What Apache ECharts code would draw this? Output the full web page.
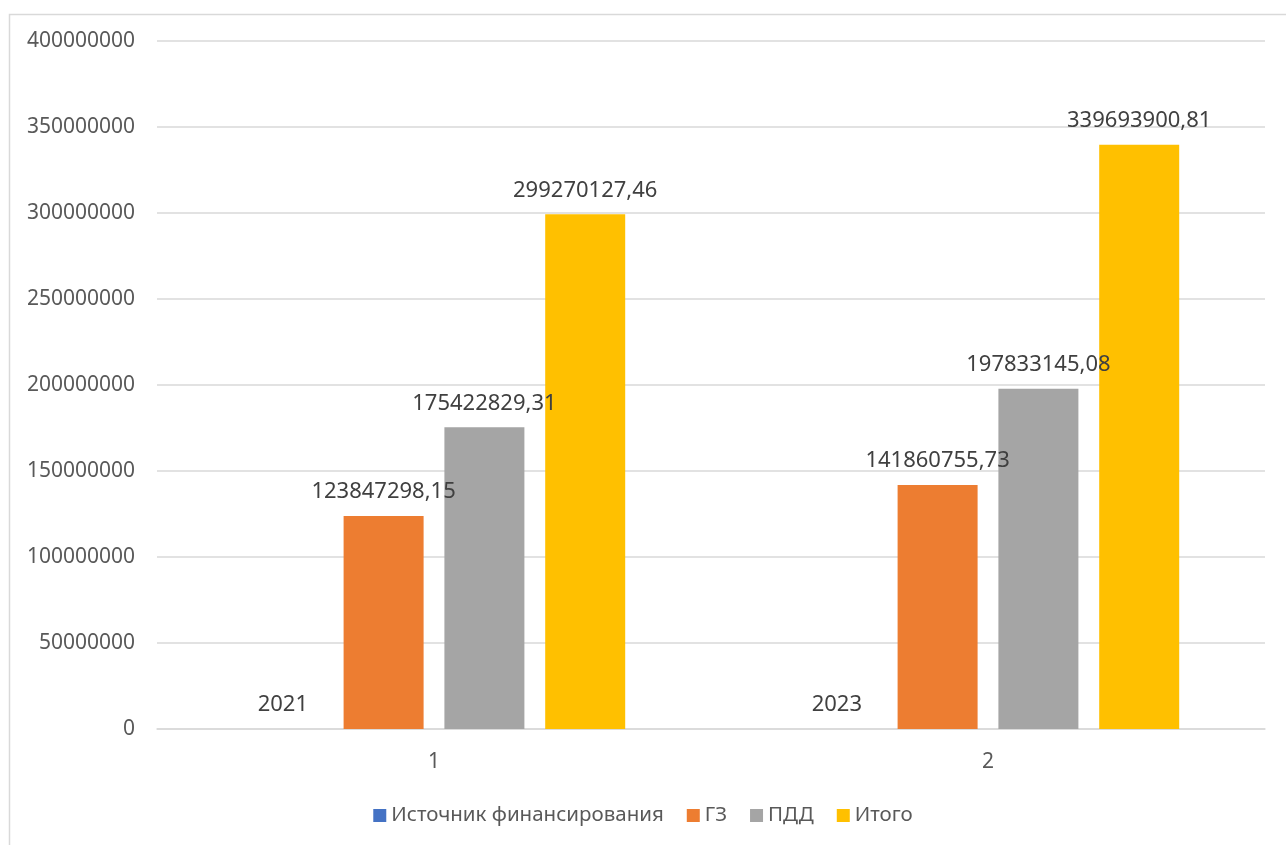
<!DOCTYPE html>
<html>
<head>
<meta charset="utf-8">
<script src="https://cdn.jsdelivr.net/npm/echarts@6/dist/echarts.min.js"></script>
<style>
html,body{margin:0;padding:0;background:#fff;}
#chart{width:1286px;height:845px;}
</style>
</head>
<body>
<div id="chart"></div>
<script>
var categories = ['1', '2'];
var seriesNames = ['Источник финансирования', 'ГЗ', 'ПДД', 'Итого'];
var sourceValues = [2021, 2023];
var gzValues = [123847298.15, 141860755.73];
var pddValues = [175422829.31, 197833145.08];
var totalValues = [299270127.46, 339693900.81];
var yTicks = { min: 0, max: 400000000, interval: 50000000 };

var colors = ['#4472C4', '#ED7D31', '#A5A5A5', '#FFC000'];
var fontFamily = '"Noto Sans", "DejaVu Sans", sans-serif';

function fmt(p) {
  var v = p.value;
  if (Number.isInteger(v)) return String(v);
  return v.toFixed(2).replace('.', ',');
}

function mkSeries(name, data, color) {
  return {
    name: name,
    type: 'bar',
    data: data,
    barWidth: 80,
    barGap: '26%',
    itemStyle: { color: color },
    label: {
      show: true,
      position: 'top',
      distance: 13,
      formatter: fmt,
      color: '#404040',
      fontSize: 22,
      fontFamily: fontFamily
    }
  };
}

var chart = echarts.init(document.getElementById('chart'));
chart.setOption({
  backgroundColor: '#ffffff',
  animation: false,
  color: colors,
  graphic: [{
    type: 'rect',
    left: 7,
    top: 12,
    shape: { width: 1300, height: 860 },
    style: { fill: 'none', stroke: '#d9d9d9', lineWidth: 1.5 },
    silent: true,
    z: -1
  }],
  grid: { left: 157, right: 21, top: 41, bottom: 116 },
  legend: {
    left: 'center',
    top: 800,
    itemWidth: 13,
    itemHeight: 13,
    itemGap: 23,
    icon: 'rect',
    textStyle: { color: '#595959', fontSize: 20.5, fontFamily: fontFamily },
    data: seriesNames
  },
  xAxis: {
    type: 'category',
    data: categories,
    axisLine: { show: true, lineStyle: { color: '#d9d9d9', width: 1.5 } },
    axisTick: { show: false },
    axisLabel: { color: '#595959', fontSize: 21, fontFamily: fontFamily, margin: 23 }
  },
  yAxis: {
    type: 'value',
    min: yTicks.min,
    max: yTicks.max,
    interval: yTicks.interval,
    axisLine: { show: false },
    axisTick: { show: false },
    splitLine: { lineStyle: { color: '#d9d9d9', width: 1.5 } },
    axisLabel: {
      color: '#595959', fontSize: 21, fontFamily: fontFamily, margin: 22,
      formatter: function (v) { return String(v); }
    }
  },
  series: [
    mkSeries(seriesNames[0], sourceValues, colors[0]),
    mkSeries(seriesNames[1], gzValues, colors[1]),
    mkSeries(seriesNames[2], pddValues, colors[2]),
    mkSeries(seriesNames[3], totalValues, colors[3])
  ]
});
</script>
</body>
</html>
